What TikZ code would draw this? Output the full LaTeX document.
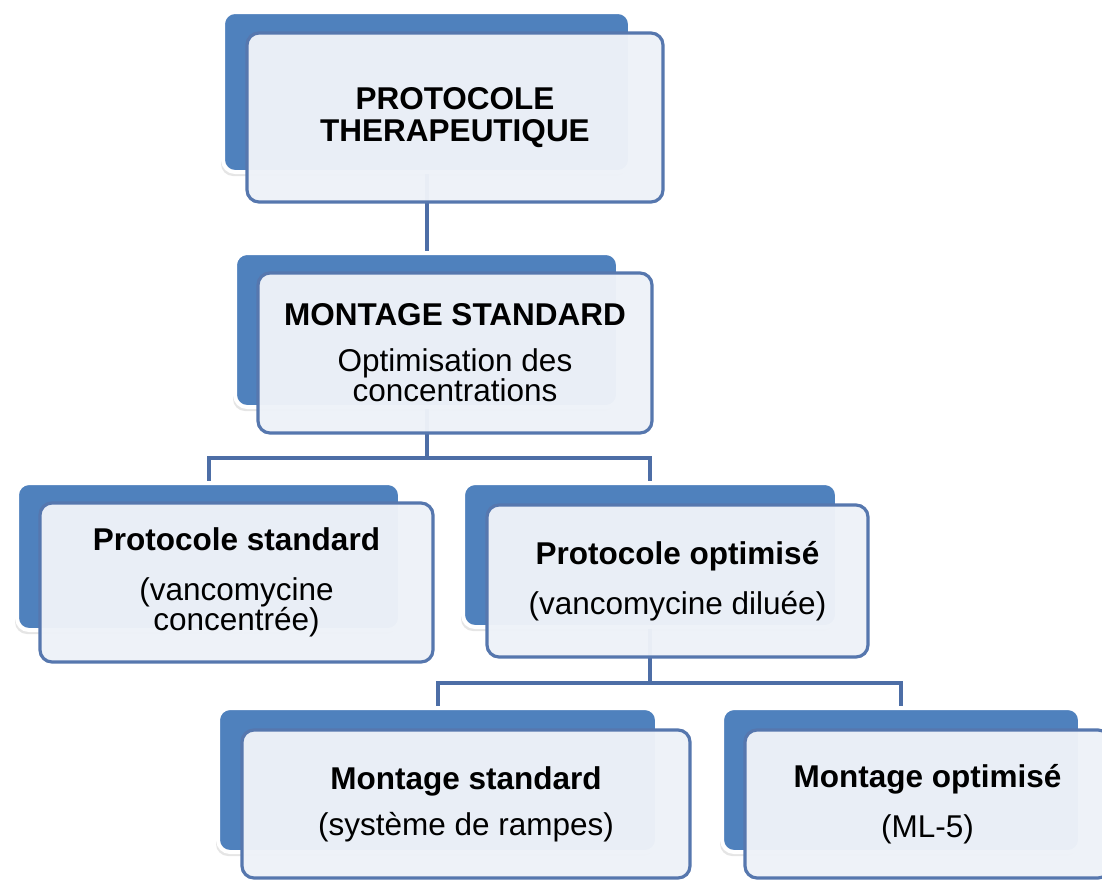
\documentclass[tikz,border=0pt]{standalone}
\usepackage{fontspec}
\setmainfont{Liberation Sans}
\usetikzlibrary{shadows}
\definecolor{backblue}{HTML}{4F81BD}
\definecolor{frontfill}{HTML}{EEF2F8}
\definecolor{frontline}{HTML}{5677AE}
\definecolor{connline}{HTML}{4D6EA6}
\tikzset{
 backbox/.style={rectangle, rounded corners=12pt, fill=backblue, draw=white, line width=4pt,
   drop shadow={opacity=0.2, shadow xshift=-2pt, shadow yshift=-4pt}, inner sep=0pt},
 frontbox/.style={rectangle, rounded corners=12pt, fill=frontfill, fill opacity=0.97, text opacity=1,
   draw=frontline, draw opacity=1, line width=3.2pt, inner sep=0pt, align=center,
   font=\fontsize{31.5}{30}\selectfont},
 conn/.style={draw=connline, line width=4pt},
}
\begin{document}
\begin{tikzpicture}[x=1pt,y=-1pt]
\useasboundingbox (0,0) rectangle (1102,881);
\clip (0,0) rectangle (1102,881);
\fill[white] (0,0) rectangle (1102,881);
% back boxes
\node[backbox, minimum width=407pt, minimum height=160pt] (b1) at (426.5,92) {};
\node[backbox, minimum width=383pt, minimum height=154pt] (b2) at (426.5,330) {};
\node[backbox, minimum width=383pt, minimum height=147pt] (b3) at (208.5,556.5) {};
\node[backbox, minimum width=374pt, minimum height=144pt] (b4) at (650,555) {};
\node[backbox, minimum width=439pt, minimum height=144pt] (b5) at (437.5,780) {};
\node[backbox, minimum width=358pt, minimum height=144pt] (b6) at (901,780) {};
% junctions
\coordinate (j1) at (426.5,458);
\coordinate (j2) at (650,683);
% connectors
\draw[conn] (b1.south) -- (b2.north);
\draw[conn] (b2.south) -- (j1) -| (b3.north);
\draw[conn] (j1) -| (b4.north);
\draw[conn] (b4.south) -- (j2) -| (b5.north);
\draw[conn] (j2) -| (b6.north);
% front boxes
\node[frontbox, minimum width=416pt, minimum height=169pt] (f1) at (455,117.5)
  {\bfseries PROTOCOLE\\[2pt]\bfseries THERAPEUTIQUE};
\node[frontbox, minimum width=394pt, minimum height=160pt] (f2) at (455,353)
  {\textbf{MONTAGE STANDARD}\\[16pt]Optimisation des\\concentrations};
\node[frontbox, minimum width=393pt, minimum height=159pt] (f3) at (236.5,582.5)
  {\textbf{Protocole standard}\\[20pt](vancomycine\\concentrée)};
\node[frontbox, minimum width=381pt, minimum height=152pt] (f4) at (677.5,581)
  {\textbf{Protocole optimisé}\\[20pt](vancomycine diluée)};
\node[frontbox, minimum width=448pt, minimum height=148pt] (f5) at (466,804)
  {\textbf{Montage standard}\\[16pt](système de rampes)};
\node[frontbox, minimum width=365pt, minimum height=148pt] (f6) at (927.5,804)
  {\textbf{Montage optimisé}\\[20pt](ML-5)};
\end{tikzpicture}
\end{document}
